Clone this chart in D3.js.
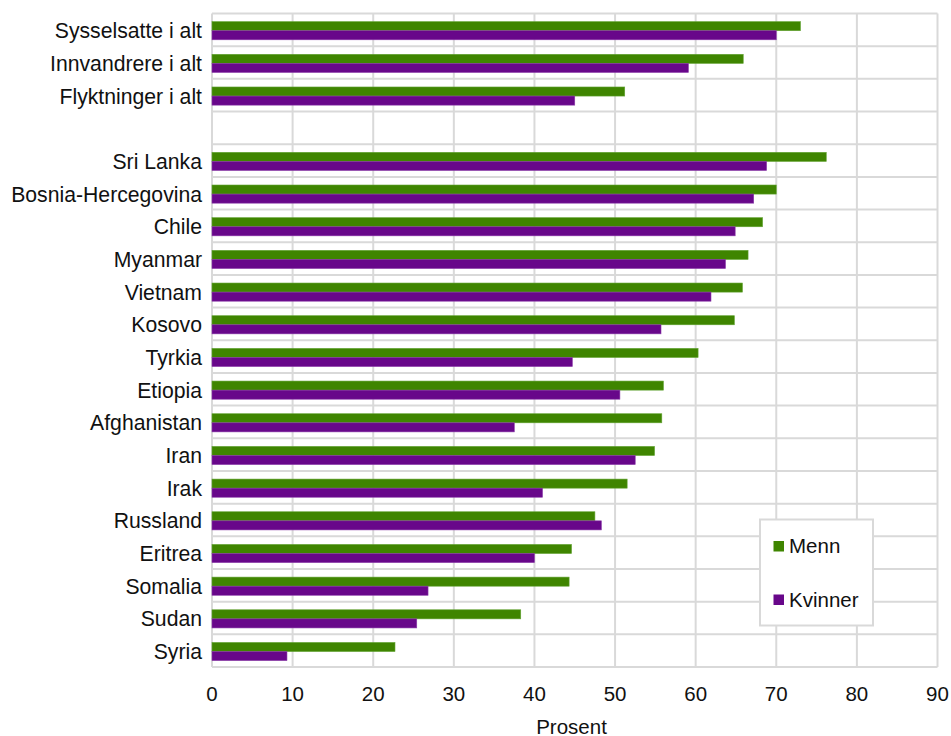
<!DOCTYPE html>
<html><head><meta charset="utf-8">
<script src="https://cdn.jsdelivr.net/npm/d3@7"></script>
<style>body{margin:0;background:#fff}svg{display:block}text{font-family:"Liberation Sans",Arial,sans-serif;fill:#111}</style>
</head><body><svg id="c" width="951" height="736"></svg>
<script>
const categories = ["Sysselsatte i alt","Innvandrere i alt","Flyktninger i alt","","Sri Lanka","Bosnia-Hercegovina","Chile","Myanmar","Vietnam","Kosovo","Tyrkia","Etiopia","Afghanistan","Iran","Irak","Russland","Eritrea","Somalia","Sudan","Syria"];
const menn =    [73.0,65.9,51.2,null,76.2,70.0,68.3,66.5,65.8,64.8,60.3,56.0,55.8,54.9,51.5,47.5,44.6,44.3,38.3,22.7];
const kvinner = [70.0,59.1,45.0,null,68.8,67.2,64.9,63.7,61.9,55.7,44.7,50.6,37.5,52.5,41.0,48.3,40.0,26.8,25.4,9.3];
const seriesNames = ["Menn","Kvinner"];
const seriesColors = ["#3f8500","#68078a"];
const seriesStroke = ["#62a332","#8a3aa8"];
const xTicks = [0,10,20,30,40,50,60,70,80,90];
const xTitle = "Prosent";

const svg = d3.select("#c");
const L = 212, R = 937.5, T = 13.5, B = 667;
const FS = 20.5, FSY = 21.2;
const x = d3.scaleLinear().domain([0,90]).range([L,R]);
const y = d3.scaleBand().domain(categories).range([T,B]);
const ys = d3.scaleBand().domain(seriesNames).range([0,y.bandwidth()]).paddingOuter(0.8).align(0.56);
const grid = "#d9d9d9";

// vertical gridlines
svg.append("g").selectAll("line").data(xTicks).join("line")
  .attr("x1",d=>x(d)).attr("x2",d=>x(d)).attr("y1",T).attr("y2",B)
  .attr("stroke",grid).attr("stroke-width",2);
// horizontal gridlines at band boundaries
const bounds = categories.map(c=>y(c)).concat([B]);
svg.append("g").selectAll("line").data(bounds).join("line")
  .attr("x1",L).attr("x2",R).attr("y1",d=>d).attr("y2",d=>d)
  .attr("stroke",grid).attr("stroke-width",2);

const rows = categories.map((c,i)=>({c, vals:[menn[i],kvinner[i]]}));
const g = svg.append("g");
rows.forEach(r=>{
  r.vals.forEach((v,j)=>{
    if(v==null) return;
    g.append("rect")
      .attr("x",x(0)).attr("y",y(r.c)+ys(seriesNames[j]))
      .attr("width",x(v)-x(0)).attr("height",ys.bandwidth())
      .attr("fill",seriesColors[j]).attr("stroke",seriesStroke[j]).attr("stroke-width",0.6);
  });
});

// y labels
svg.append("g").selectAll("text").data(categories).join("text")
  .attr("x",202).attr("y",d=>y(d)+y.bandwidth()/2+1).attr("dy","0.35em")
  .attr("text-anchor","end").attr("font-size",FSY).text(d=>d);

// x axis tick labels
svg.append("g").selectAll("text").data(xTicks).join("text")
  .attr("x",d=>x(d)).attr("y",694.3).attr("dy","0.35em")
  .attr("text-anchor","middle").attr("font-size",FS).text(d=>d);
svg.append("text").attr("x",571.5).attr("y",726.5).attr("dy","0.35em")
  .attr("text-anchor","middle").attr("font-size",FS).text(xTitle);

// legend
const lg = svg.append("g");
lg.append("rect").attr("x",760).attr("y",519.5).attr("width",113).attr("height",106)
  .attr("fill","#fff").attr("stroke",grid).attr("stroke-width",2);
seriesNames.forEach((s,i)=>{
  const cy = 546 + i*53.5;
  lg.append("rect").attr("x",773.5).attr("y",cy-5).attr("width",10.5).attr("height",10.5).attr("fill",seriesColors[i]);
  lg.append("text").attr("x",789).attr("y",cy).attr("dy","0.35em").attr("font-size",FS).text(s);
});
</script></body></html>
